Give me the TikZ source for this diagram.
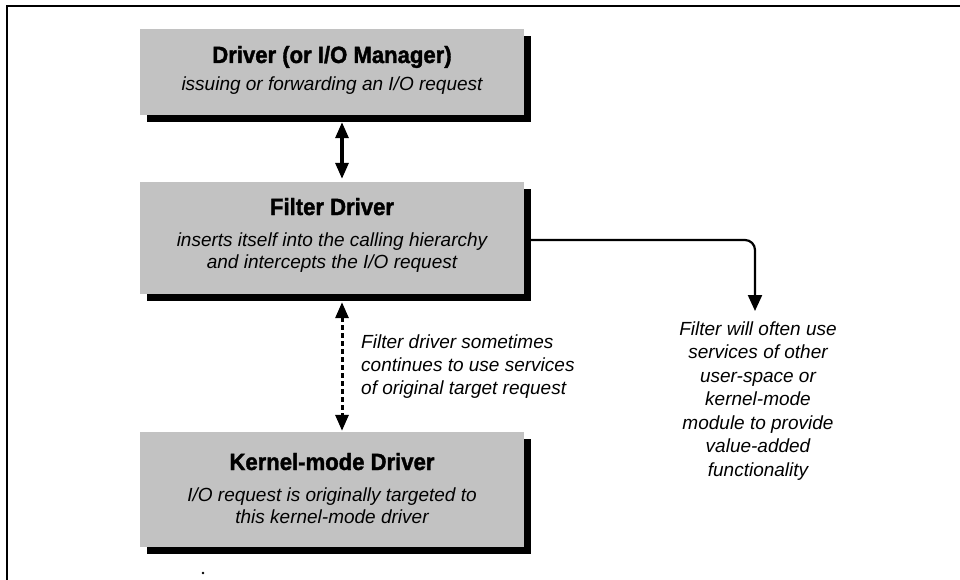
\documentclass[tikz,border=0pt]{standalone}
\usepackage{fontspec}
\setmainfont{Liberation Sans}
\newfontfamily\heavyfont[FakeStretch=0.94, BoldFeatures={FakeBold=1.6}]{Liberation Sans}
\usetikzlibrary{arrows.meta,shadows}
\begin{document}
\begin{tikzpicture}[x=1pt,y=-1pt,
  box/.style={fill=black!24, draw=none, minimum width=384pt, inner sep=0pt,
    general shadow={fill=black, shadow xshift=7pt, shadow yshift=-7pt}},
  ttl/.style={font=\heavyfont\fontsize{23.5}{28}\selectfont\bfseries, anchor=base, inner sep=0pt},
  sub/.style={font=\fontsize{19}{23.5}\selectfont\itshape, anchor=base, inner sep=0pt},
  notel/.style={sub, anchor=base west},
  solidarrow/.style={line width=3.2pt, {Triangle[width=13pt,length=16pt]}-{Triangle[width=13pt,length=16pt]}},
  dasharrow/.style={line width=3pt, dash pattern=on 5pt off 3pt, {Triangle[width=13pt,length=16pt]}-{Triangle[width=13pt,length=16pt]}},
  elbow/.style={line width=2.2pt, rounded corners=10pt, -{Triangle[width=14pt,length=16pt]}},
  frameline/.style={line width=1.8pt}
]
\useasboundingbox (0,0) rectangle (960,580);
% frame
\coordinate (fTR) at (960,6);
\coordinate (fTL) at (7,6);
\coordinate (fBL) at (7,580);
\draw[frameline] (fTR) -- (fTL) -- (fBL);

% boxes
\node[box, minimum height=86pt] (drv) at (332,72) {};
\node[box, minimum height=112pt] (flt) at (332,238) {};
\node[box, minimum height=115pt] (knl) at (332,489.5) {};

% box texts
\node[ttl] (drvT) at (332,63) {Driver (or I/O Manager)};
\node[sub] (drvS) at (332,91) {issuing or forwarding an I/O request};

\node[ttl] (fltT) at (332,215) {Filter Driver};
\node[sub] (fltS1) at (332,246) {inserts itself into the calling hierarchy};
\node[sub] (fltS2) at (332,268) {and intercepts the I/O request};

\node[ttl] (knlT) at (332,470) {Kernel-mode Driver};
\node[sub] (knlS1) at (332,501) {I/O request is originally targeted to};
\node[sub] (knlS2) at (332,523) {this kernel-mode driver};

% dashed note
\node[notel] (dn1) at (361,348) {Filter driver sometimes};
\node[notel] (dn2) at (361,371) {continues to use services};
\node[notel] (dn3) at (361,394) {of original target request};

% right note
\node[sub] (rn1) at (758,335) {Filter will often use};
\node[sub] (rn2) at (758,358.5) {services of other};
\node[sub] (rn3) at (758,382) {user-space or};
\node[sub] (rn4) at (758,405.5) {kernel-mode};
\node[sub] (rn5) at (758,429) {module to provide};
\node[sub] (rn6) at (758,452.5) {value-added};
\node[sub] (rn7) at (758,476) {functionality};
\coordinate (svctip) at (755,311);

% connectors
\draw[solidarrow] ([xshift=10pt,yshift=-7pt]drv.south) -- ([xshift=10pt,yshift=3pt]flt.north);
\draw[dasharrow] ([xshift=10pt,yshift=-8pt]flt.south) -- ([xshift=10pt,yshift=1pt]knl.north);
\draw[elbow] ([xshift=7pt,yshift=-2pt]flt.east) -| (svctip);

% stray dot
\fill (203,573) circle (1.3pt);
\end{tikzpicture}
\end{document}
